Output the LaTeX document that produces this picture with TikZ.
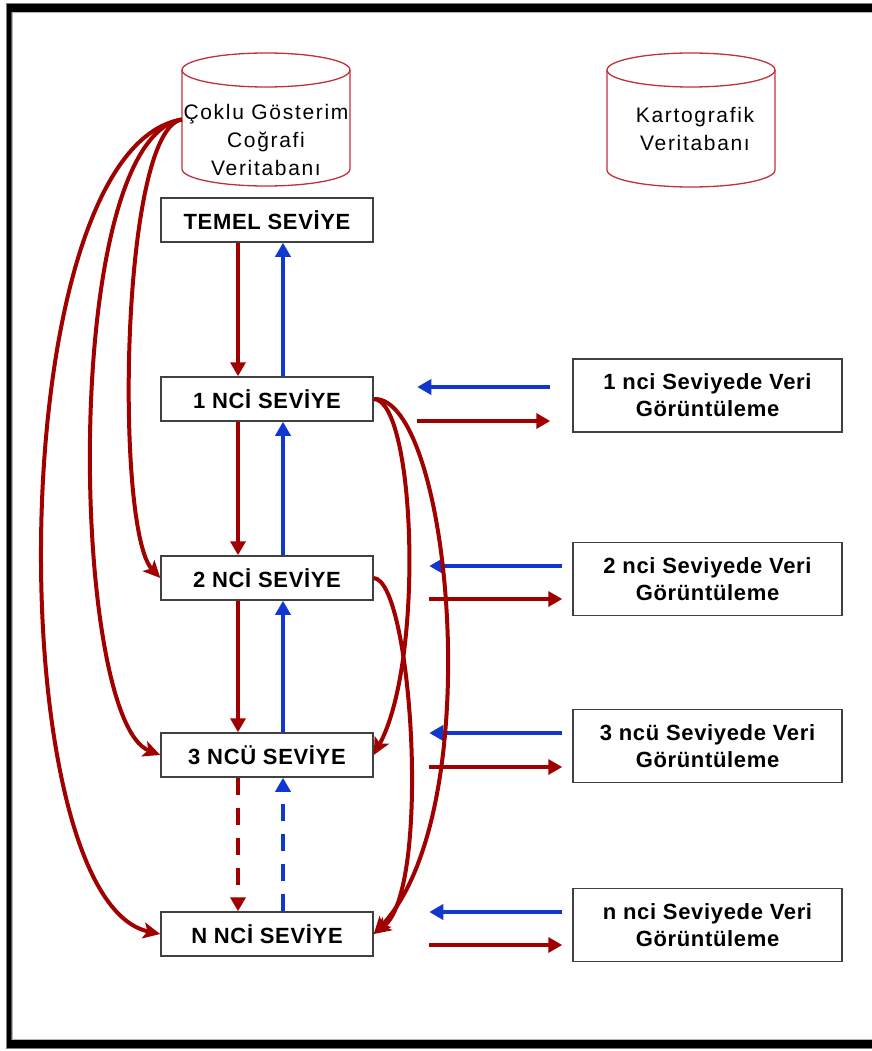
\documentclass[tikz,border=0pt]{standalone}
\usepackage{fontspec}
\setmainfont{Liberation Sans}
\newfontfamily\lblfont[LetterSpace=3]{Liberation Sans}
\newfontfamily\dbfont[LetterSpace=8]{Liberation Sans}
\usetikzlibrary{arrows.meta}

\definecolor{dred}{RGB}{160,0,0}
\definecolor{dblue}{RGB}{16,56,208}
\definecolor{cylred}{RGB}{190,50,60}
\definecolor{boxgray}{RGB}{64,64,64}

\tikzset{
  lvl/.style={draw=boxgray, line width=1.5pt, fill=white, minimum width=212pt,
    minimum height=44pt, inner sep=0pt, font=\lblfont\bfseries\fontsize{22}{26}\selectfont},
  viewbox/.style={draw=boxgray, line width=1.5pt, fill=white, minimum width=269pt,
    minimum height=73pt, inner sep=0pt, align=center,
    font=\lblfont\bfseries\fontsize{22}{27}\selectfont},
  dbtext/.style={align=center, inner sep=0pt, font=\dbfont\fontsize{21}{28}\selectfont},
  dbbody/.style={minimum width=168pt, minimum height=133pt, inner sep=0pt},
  cyl/.style={draw=cylred, line width=1.3pt},
  redarrow/.style={draw=dred, line width=4pt, -{Triangle[length=14pt,width=15pt]}},
  bluearrow/.style={draw=dblue, line width=3.6pt, -{Triangle[length=14pt,width=15pt]}},
  redcurve/.style={draw=dred, line width=4pt, -{Stealth[length=17pt,width=16pt,inset=4pt]}},
}

\begin{document}
\begin{tikzpicture}[x=1pt, y=-1pt]
  \useasboundingbox (0,0) rectangle (871,1051);
  \fill[white] (0,0) rectangle (871,1051);

  % double frame
  \fill[black, even odd rule] (7,4) rectangle (885,1048) (11.5,12) rectangle (875,1040);
  \draw[gray, line width=1pt] (6.5,3.5) rectangle (886,1048.5);
  \draw[gray!60, line width=1pt] (12,12.5) rectangle (874,1039.5);

  % databases
  \node[dbbody] (db1) at (266,119.5) {};
  \draw[cyl] (182,70) -- (182,169) arc[start angle=180, end angle=0, x radius=84, y radius=17] -- (350,70);
  \draw[cyl] (266,70) ellipse[x radius=84, y radius=17];
  \node[dbtext] (db1t) at (266,140) {Çoklu Gösterim\\Coğrafi\\Veritabanı};

  \node[dbbody] (db2) at (691,119.5) {};
  \draw[cyl] (607,70) -- (607,170) arc[start angle=180, end angle=0, x radius=84, y radius=17] -- (775,70);
  \draw[cyl] (691,70) ellipse[x radius=84, y radius=17];
  \node[dbtext] (db2t) at (695,129) {Kartografik\\Veritabanı};

  % level boxes
  \node[lvl] (l0) at (267,220) {TEMEL SEVİYE};
  \node[lvl] (l1) at (267,399) {1 NCİ SEVİYE};
  \node[lvl] (l2) at (267,578) {2 NCİ SEVİYE};
  \node[lvl] (l3) at (267,755) {3 NCÜ SEVİYE};
  \node[lvl] (ln) at (267,934) {N NCİ SEVİYE};

  % display boxes
  \node[viewbox] (v1) at (707.5,395.5) {1 nci Seviyede Veri\\Görüntüleme};
  \node[viewbox] (v2) at (707.5,579) {2 nci Seviyede Veri\\Görüntüleme};
  \node[viewbox] (v3) at (707.5,746) {3 ncü Seviyede Veri\\Görüntüleme};
  \node[viewbox] (vn) at (707.5,925) {n nci Seviyede Veri\\Görüntüleme};

  % vertical links between levels
  \draw[redarrow] ([xshift=-29pt]l0.south) -- ([xshift=-29pt]l1.north);
  \draw[bluearrow] ([xshift=16pt]l1.north) -- ([xshift=16pt]l0.south);
  \draw[redarrow] ([xshift=-29pt]l1.south) -- ([xshift=-29pt]l2.north);
  \draw[bluearrow] ([xshift=16pt]l2.north) -- ([xshift=16pt]l1.south);
  \draw[redarrow] ([xshift=-29pt]l2.south) -- ([xshift=-29pt]l3.north);
  \draw[bluearrow] ([xshift=16pt]l3.north) -- ([xshift=16pt]l2.south);
  \draw[redarrow, dash pattern=on 17pt off 13pt] ([xshift=-29pt]l3.south) -- ([xshift=-29pt]ln.north);
  \draw[bluearrow, dash pattern=on 17pt off 13pt] ([xshift=16pt]ln.north) -- ([xshift=16pt]l3.south);

  % display exchange arrows
  \draw[bluearrow] ([shift={(-22,-8.5)}]v1.west) -- ([shift={(-155,-8.5)}]v1.west);
  \draw[redarrow] ([shift={(-155,25.5)}]v1.west) -- ([shift={(-22,25.5)}]v1.west);
  \draw[bluearrow] ([shift={(-10,-13)}]v2.west) -- ([shift={(-143,-13)}]v2.west);
  \draw[redarrow] ([shift={(-143,20)}]v2.west) -- ([shift={(-10,20)}]v2.west);
  \draw[bluearrow] ([shift={(-10,-13)}]v3.west) -- ([shift={(-143,-13)}]v3.west);
  \draw[redarrow] ([shift={(-143,21)}]v3.west) -- ([shift={(-10,21)}]v3.west);
  \draw[bluearrow] ([shift={(-10,-13)}]vn.west) -- ([shift={(-143,-13)}]vn.west);
  \draw[redarrow] ([shift={(-143,20)}]vn.west) -- ([shift={(-10,20)}]vn.west);

  % database to deeper levels
  \draw[redcurve] (db1.west) .. controls (120,130) and (115,530) .. (l2.west);
  \draw[redcurve] (db1.west) .. controls (60,140) and (70,720) .. (l3.west);
  \draw[redcurve] (db1.west) .. controls (0,150) and (0,900) .. (ln.west);

  % level skips on the right
  \draw[redcurve] (l1.east) .. controls (415,400) and (425,660) .. (l3.east);
  \draw[redcurve] (l1.east) .. controls (450,395) and (490,810) .. (ln.east);
  \draw[redcurve] (l2.east) .. controls (412,580) and (432,890) .. (ln.east);
\end{tikzpicture}
\end{document}
